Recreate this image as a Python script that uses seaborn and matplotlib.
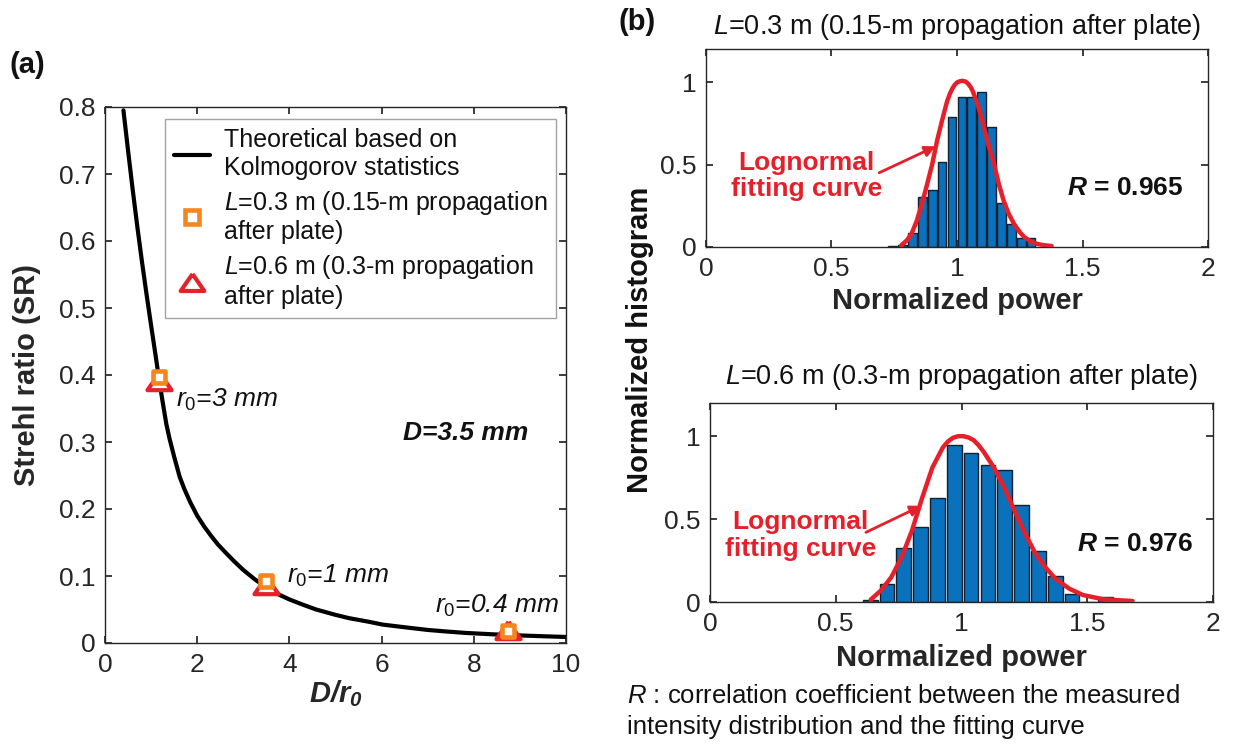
import matplotlib
matplotlib.use("Agg")
import matplotlib.pyplot as plt
from matplotlib.lines import Line2D
import seaborn as sns

# ---------------- data ----------------
# Theoretical Strehl ratio vs D/r0 (Kolmogorov statistics)
theory_x = [0.40, 0.50, 0.60, 0.70, 0.80, 0.90, 1.00, 1.10, 1.17, 1.25, 1.33,
            1.40, 1.50, 1.62, 1.72, 1.85, 2.00, 2.15, 2.30, 2.45, 2.63, 2.80,
            3.00, 3.25, 3.50, 3.75, 4.00, 4.30, 4.58, 5.00, 5.30, 5.70, 6.02,
            6.50, 7.00, 7.40, 7.83, 8.40, 9.00, 9.50, 10.0]
theory_sr = [0.795, 0.735, 0.677, 0.622, 0.570, 0.521, 0.474, 0.428, 0.395,
             0.360, 0.327, 0.305, 0.278, 0.248, 0.230, 0.210, 0.190, 0.174,
             0.160, 0.147, 0.134, 0.122, 0.109, 0.095, 0.083, 0.073, 0.065,
             0.057, 0.050, 0.042, 0.037, 0.032, 0.0275, 0.0235, 0.0195,
             0.0172, 0.0150, 0.0130, 0.0113, 0.0101, 0.0090]

# Measured Strehl ratios
meas_x = [1.167, 3.5, 8.75]
sr_L03 = [0.397, 0.092, 0.018]
sr_L06 = [0.391, 0.086, 0.019]
r0_labels = ["$r_{\\mathit{0}}$=3 mm", "$r_{\\mathit{0}}$=1 mm", "$r_{\\mathit{0}}$=0.4 mm"]

# Normalized-power histograms (bin centres and normalized heights)
top_centers = [0.744, 0.784, 0.823, 0.862, 0.902, 0.941, 0.980, 1.020, 1.059,
               1.098, 1.138, 1.177, 1.216, 1.256, 1.295]
top_heights = [0.008, 0.010, 0.085, 0.305, 0.343, 0.515, 0.786, 0.911, 0.911,
               0.940, 0.726, 0.269, 0.139, 0.056, 0.056]
bot_centers = [0.637, 0.704, 0.770, 0.837, 0.904, 0.971, 1.038, 1.105, 1.172,
               1.239, 1.306, 1.373, 1.440, 1.506, 1.573]
bot_heights = [0.010, 0.108, 0.327, 0.450, 0.626, 0.948, 0.898, 0.825, 0.797,
               0.587, 0.305, 0.155, 0.048, 0.0, 0.032]

# Lognormal fitting curves
top_fit_x = [0.778, 0.800, 0.819, 0.840, 0.860, 0.880, 0.901, 0.920, 0.941,
             0.960, 0.972, 0.982, 0.992, 1.000, 1.012, 1.023, 1.035, 1.045,
             1.055, 1.064, 1.085, 1.105, 1.125, 1.148, 1.166, 1.186, 1.205,
             1.227, 1.250, 1.268, 1.290, 1.316, 1.345, 1.377]
top_fit_y = [0.010, 0.040, 0.080, 0.160, 0.260, 0.375, 0.500, 0.640, 0.770,
             0.880, 0.930, 0.962, 0.985, 0.997, 1.005, 1.007, 1.002, 0.988,
             0.968, 0.940, 0.850, 0.740, 0.620, 0.500, 0.385, 0.280, 0.205,
             0.140, 0.090, 0.060, 0.037, 0.020, 0.011, 0.006]
bot_fit_x = [0.639, 0.680, 0.721, 0.762, 0.803, 0.844, 0.884, 0.925, 0.946,
             0.966, 0.987, 1.007, 1.028, 1.048, 1.068, 1.088, 1.129, 1.170,
             1.211, 1.252, 1.293, 1.333, 1.374, 1.429, 1.483, 1.565, 1.680]
bot_fit_y = [0.014, 0.070, 0.150, 0.270, 0.430, 0.630, 0.810, 0.930, 0.968,
             0.990, 1.000, 1.000, 0.992, 0.976, 0.945, 0.906, 0.810, 0.690,
             0.550, 0.415, 0.295, 0.210, 0.140, 0.080, 0.042, 0.016, 0.006]

top_title = "$L$=0.3 m (0.15-m propagation after plate)"
bot_title = "$L$=0.6 m (0.3-m propagation after plate)"
top_R = "0.965"
bot_R = "0.976"

# ---------------- style ----------------
sns.set_theme(style="ticks")
plt.rcParams.update({
    "font.family": ["Liberation Sans", "DejaVu Sans"],
    "mathtext.fontset": "custom",
    "mathtext.rm": "Liberation Sans",
    "mathtext.it": "Liberation Sans:italic",
    "mathtext.bf": "Liberation Sans:bold",
    "mathtext.bfit": "Liberation Sans:italic:bold",
    "xtick.direction": "in",
    "ytick.direction": "in",
    "xtick.top": True,
    "ytick.right": True,
    "axes.edgecolor": "#262626",
    "axes.linewidth": 1.0,
    "xtick.color": "#262626",
    "ytick.color": "#262626",
    "xtick.labelcolor": "#262626",
    "ytick.labelcolor": "#262626",
    "xtick.major.size": 5,
    "ytick.major.size": 5,
    "text.color": "#111111",
})

BLUE = "#0A71BC"
RED = "#E5202A"
ORANGE = "#F5861F"
TRI_RED = "#E42229"

TICK_FS = 19
LABEL_FS = 21
TXT_FS = 19

fig = plt.figure(figsize=(12.39, 7.46), dpi=100)
W, H = 1239, 746


def axes_px(left, top, right, bottom):
    return fig.add_axes([left / W, 1 - bottom / H, (right - left) / W, (bottom - top) / H])


# ---------------- (a) Strehl ratio ----------------
axa = axes_px(105, 107, 566, 643)
sns.lineplot(x=theory_x, y=theory_sr, ax=axa, color="black", lw=3.0, zorder=2)

tri_marker = [(0, 0.72), (-1, -0.72), (1, -0.72), (0, 0.72)]
sns.scatterplot(x=meas_x, y=sr_L06, ax=axa, marker=tri_marker, s=300,
                facecolor="white", edgecolor=TRI_RED, linewidth=3.0, zorder=3)
sns.scatterplot(x=meas_x, y=sr_L03, ax=axa, marker="s", s=85,
                facecolor="white", edgecolor=ORANGE, linewidth=3.3, zorder=4)

axa.set_xlim(0, 10)
axa.set_ylim(0, 0.8)
axa.set_xticks([0, 2, 4, 6, 8, 10])
axa.set_xticklabels(["0", "2", "4", "6", "8", "10"], fontsize=TICK_FS)
axa.set_yticks([0, 0.1, 0.2, 0.3, 0.4, 0.5, 0.6, 0.7, 0.8])
axa.set_yticklabels(["0", "0.1", "0.2", "0.3", "0.4", "0.5", "0.6", "0.7", "0.8"],
                    fontsize=TICK_FS)
axa.tick_params(pad=7)
axa.set_xlabel(r"$\mathbfit{D/r_0}$", fontsize=LABEL_FS)
axa.xaxis.set_label_coords(0.5, -0.065)
axa.set_ylabel("Strehl ratio (SR)", fontsize=LABEL_FS, fontweight="bold")
axa.yaxis.set_label_coords(-0.138, 0.5)

axa.text(1.55, 0.363, r0_labels[0], fontsize=TXT_FS, style="italic", va="center")
axa.text(3.94, 0.100, r0_labels[1], fontsize=TXT_FS, style="italic", va="center")
axa.text(7.15, 0.056, r0_labels[2], fontsize=TXT_FS, style="italic", va="center")
axa.text(7.83, 0.313, "D=3.5 mm", fontsize=TXT_FS, style="italic",
         fontweight="bold", ha="center", va="center")

handles = [
    Line2D([], [], color="black", lw=3.0),
    Line2D([], [], ls="", marker="s", ms=9.5, mfc="white", mec=ORANGE, mew=3.3),
    Line2D([], [], ls="", marker=tri_marker, ms=17, mfc="white", mec=TRI_RED, mew=3.0),
]
labels = [
    "Theoretical based on\nKolmogorov statistics",
    "$L$=0.3 m (0.15-m propagation\nafter plate)",
    "$L$=0.6 m (0.3-m propagation\nafter plate)",
]
leg = axa.legend(handles, labels, loc="upper left", bbox_to_anchor=(0.130, 0.977),
                 fontsize=18, frameon=True, fancybox=False, edgecolor="#8c8c8c",
                 handlelength=1.45, handletextpad=0.55, labelspacing=0.35,
                 borderpad=0.35, borderaxespad=0)
leg.get_frame().set_linewidth(1.0)

fig.text(10 / W, 1 - 65 / H, "(a)", fontsize=LABEL_FS, fontweight="bold", va="center")


# ---------------- (b) histograms ----------------
def hist_panel(ax, centers, heights, fit_x, fit_y, title, rval,
               text_xy, arrow_tail, arrow_head, r_xy, title_y, xlabel_y):
    width = centers[1] - centers[0]
    sns.histplot(x=centers, weights=heights, bins=len(centers),
                 binrange=(centers[0] - width / 2, centers[-1] + width / 2),
                 shrink=0.88, color=BLUE, edgecolor="#13202e", linewidth=1.0,
                 alpha=1.0, ax=ax, zorder=2)
    sns.lineplot(x=fit_x, y=fit_y, ax=ax, color=RED, lw=3.2, zorder=3)
    ax.set_xlim(0, 2)
    ax.set_ylim(0, 1.2)
    ax.set_xticks([0, 0.5, 1, 1.5, 2])
    ax.set_xticklabels(["0", "0.5", "1", "1.5", "2"], fontsize=TICK_FS)
    ax.set_yticks([0, 0.5, 1])
    ax.set_yticklabels(["0", "0.5", "1"], fontsize=TICK_FS)
    ax.tick_params(pad=7)
    ax.set_ylabel("")
    ax.set_xlabel("Normalized power", fontsize=LABEL_FS, fontweight="bold")
    ax.xaxis.set_label_coords(0.5, xlabel_y)
    ax.text(0.5, title_y, title, transform=ax.transAxes, fontsize=19.5,
            ha="center", va="center")
    ax.text(text_xy[0], text_xy[1], "Lognormal\nfitting curve", color=RED,
            fontsize=TXT_FS, fontweight="bold", ha="center", va="center",
            linespacing=1.15)
    ax.annotate("", xy=arrow_head, xytext=arrow_tail,
                arrowprops=dict(arrowstyle="-|>", color=RED, lw=2.0,
                                mutation_scale=16, shrinkA=0, shrinkB=0))
    ax.text(r_xy[0], r_xy[1], r"$\mathbfit{R}$ = " + rval, fontsize=TXT_FS,
            fontweight="bold", ha="center", va="center")


axt = axes_px(706, 49, 1208, 247)
hist_panel(axt, top_centers, top_heights, top_fit_x, top_fit_y, top_title, top_R,
           text_xy=(0.40, 0.43), arrow_tail=(0.69, 0.45), arrow_head=(0.915, 0.61),
           r_xy=(1.67, 0.36), title_y=1.11, xlabel_y=-0.20)

axb = axes_px(710, 403, 1213, 602)
hist_panel(axb, bot_centers, bot_heights, bot_fit_x, bot_fit_y, bot_title, bot_R,
           text_xy=(0.36, 0.40), arrow_tail=(0.62, 0.42), arrow_head=(0.84, 0.58),
           r_xy=(1.69, 0.35), title_y=1.13, xlabel_y=-0.21)

fig.text(640 / W, 1 - 340 / H, "Normalized histogram", fontsize=LABEL_FS,
         fontweight="bold", rotation=90, ha="center", va="center")
fig.text(637 / W, 1 - 22 / H, "(b)", fontsize=LABEL_FS, fontweight="bold",
         ha="center", va="center")
fig.text(627 / W, 1 - 684 / H,
         "$R$ : correlation coefficient between the measured\n"
         "intensity distribution and the fitting curve",
         fontsize=18.5, ha="left", va="top", linespacing=1.38)

fig.savefig("out.png", dpi=100)
